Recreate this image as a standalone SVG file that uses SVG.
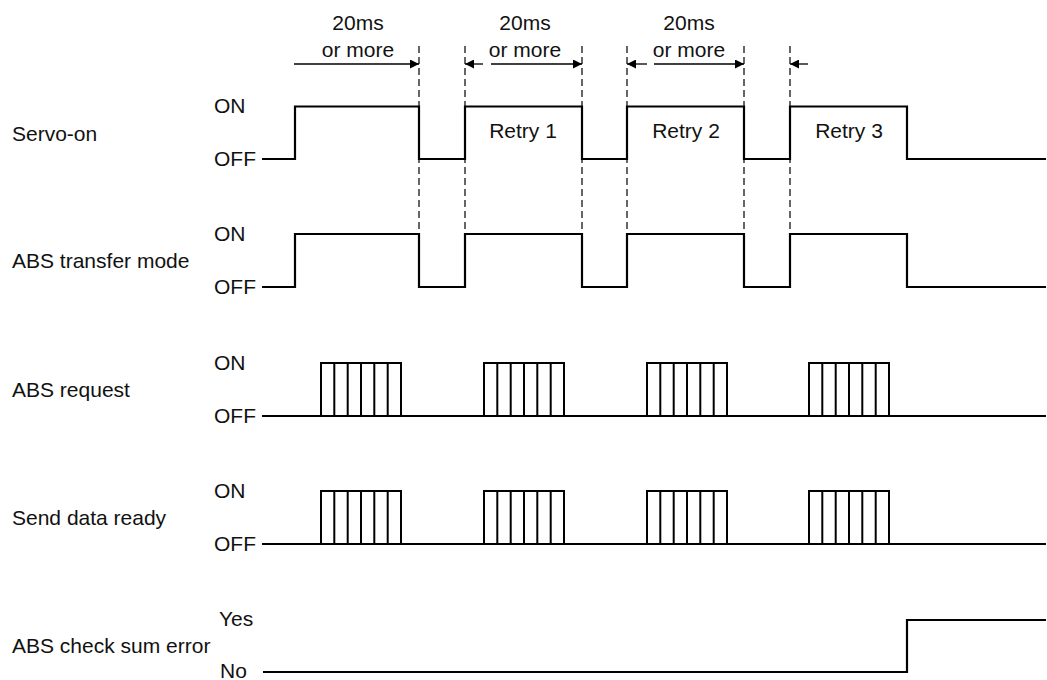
<svg xmlns="http://www.w3.org/2000/svg" width="1047" height="680" viewBox="0 0 1047 680">
<style>
text{font-family:"Liberation Sans",Arial,sans-serif;font-size:21px;fill:#111}
.mid{text-anchor:middle}
.sig{fill:none;stroke:#000;stroke-width:2.2;stroke-linejoin:miter}
.pulse{fill:none;stroke:#000;stroke-width:2}
.dash{fill:none;stroke:#000;stroke-width:1.2;stroke-dasharray:7 4}
.dim{fill:none;stroke:#000;stroke-width:1.3}
</style>
<defs>
<marker id="ah" viewBox="0 0 10 10" refX="10" refY="5" markerWidth="10" markerHeight="9" markerUnits="userSpaceOnUse" orient="auto-start-reverse">
<path d="M0,0 L10,5 L0,10 Z" fill="#000"/>
</marker>
</defs>
<rect width="1047" height="680" fill="#fff"/>

<g id="timing-labels">
<text class="mid" x="358" y="30">20ms</text>
<text class="mid" x="358" y="57">or more</text>
<text class="mid" x="525" y="30">20ms</text>
<text class="mid" x="525" y="57">or more</text>
<text class="mid" x="689" y="30">20ms</text>
<text class="mid" x="689" y="57">or more</text>
</g>

<g id="connectors">
<path class="dash" d="M419,46V287M465,46V287M582,46V287M627,46V287M744,46V287M790,46V287"/>
<line class="dim" x1="294" y1="64" x2="419" y2="64" marker-end="url(#ah)"/>
<line class="dim" x1="483" y1="64" x2="465" y2="64" marker-end="url(#ah)"/>
<line class="dim" x1="491" y1="64" x2="582" y2="64" marker-end="url(#ah)"/>
<line class="dim" x1="647" y1="64" x2="627" y2="64" marker-end="url(#ah)"/>
<line class="dim" x1="654" y1="64" x2="744" y2="64" marker-end="url(#ah)"/>
<line class="dim" x1="808" y1="64" x2="790" y2="64" marker-end="url(#ah)"/>
</g>

<g id="servo-on">
<text x="12" y="141">Servo-on</text>
<text x="214" y="113">ON</text>
<text x="214" y="166">OFF</text>
<path class="sig" d="M262,159H295V106.5H419V159H465V106.5H582V159H627V106.5H744V159H790V106.5H907V159H1046"/>
<text class="mid" x="523" y="138">Retry 1</text>
<text class="mid" x="686" y="138">Retry 2</text>
<text class="mid" x="849" y="138">Retry 3</text>
</g>

<g id="abs-transfer-mode">
<text x="12" y="268">ABS transfer mode</text>
<text x="214" y="241">ON</text>
<text x="214" y="294">OFF</text>
<path class="sig" d="M262,287H295V234H419V287H465V234H582V287H627V234H744V287H790V234H907V287H1046"/>
</g>

<g id="abs-request">
<text x="12" y="397">ABS request</text>
<text x="214" y="370">ON</text>
<text x="214" y="423">OFF</text>
<path class="sig" d="M262,416H1046"/>
<path class="pulse" d="M321,416V363H401V416M334.3,363V416M347.7,363V416M361,363V416M374.3,363V416M387.7,363V416"/>
<path class="pulse" d="M484,416V363H564V416M497.3,363V416M510.7,363V416M524,363V416M537.3,363V416M550.7,363V416"/>
<path class="pulse" d="M647,416V363H727V416M660.3,363V416M673.7,363V416M687,363V416M700.3,363V416M713.7,363V416"/>
<path class="pulse" d="M809,416V363H889V416M822.3,363V416M835.7,363V416M849,363V416M862.3,363V416M875.7,363V416"/>
</g>

<g id="send-data-ready">
<text x="12" y="525">Send data ready</text>
<text x="214" y="498">ON</text>
<text x="214" y="551">OFF</text>
<path class="sig" d="M262,544H1046"/>
<path class="pulse" d="M321,544V491H401V544M334.3,491V544M347.7,491V544M361,491V544M374.3,491V544M387.7,491V544"/>
<path class="pulse" d="M484,544V491H564V544M497.3,491V544M510.7,491V544M524,491V544M537.3,491V544M550.7,491V544"/>
<path class="pulse" d="M647,544V491H727V544M660.3,491V544M673.7,491V544M687,491V544M700.3,491V544M713.7,491V544"/>
<path class="pulse" d="M809,544V491H889V544M822.3,491V544M835.7,491V544M849,491V544M862.3,491V544M875.7,491V544"/>
</g>

<g id="abs-check-sum-error">
<text x="12" y="653">ABS check sum error</text>
<text x="219" y="626">Yes</text>
<text x="220" y="678">No</text>
<path class="sig" d="M263,672H907V620H1046"/>
</g>
</svg>
